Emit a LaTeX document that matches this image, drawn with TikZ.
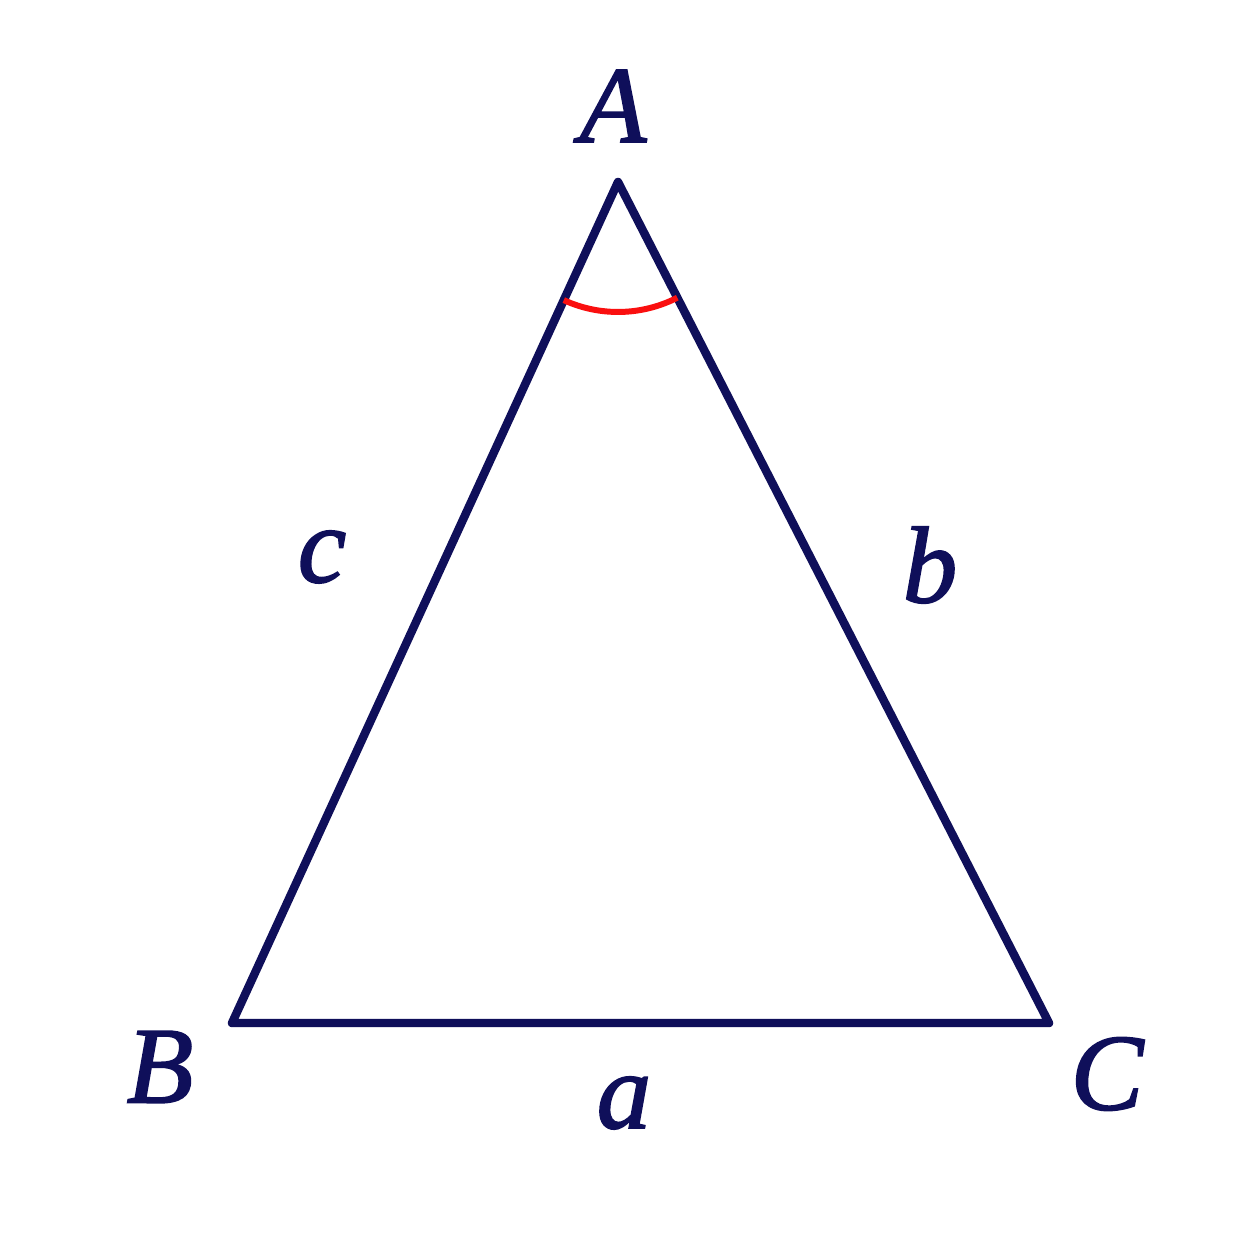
\documentclass[tikz,border=0pt]{standalone}
\usepackage{fontspec}
\setmainfont{Liberation Serif}
\newfontfamily\lblfont[ItalicFeatures={FakeBold=1.6}]{Liberation Serif}
\definecolor{navy}{RGB}{15,15,90}
\definecolor{arcred}{RGB}{250,15,15}
\begin{document}
\begin{tikzpicture}[
  side/.style={draw=navy, line width=2.4pt, line join=round, line cap=round},
  lbl/.style={text=navy, inner sep=0pt, font=\fontsize{31}{36}\selectfont\lblfont\itshape}
]
\useasboundingbox[fill=white] (0,0) rectangle (12.54,12.54);
\coordinate (A) at (6.18,10.72);
\coordinate (B) at (2.32,2.31);
\coordinate (C) at (10.49,2.31);
\draw[side] (A) -- (B) -- (C) -- cycle;
\draw[arcred, line width=1.7pt] ([shift={(245.35:1.3)}]A) arc[start angle=245.35, end angle=297.13, radius=1.3];
\node[lbl] (lA) at (6.13,11.48) {A};
\node[lbl] (lB) at (1.60,1.87) {B};
\node[lbl] (lC) at (11.07,1.80) {C};
\node[lbl] (la) at (6.24,1.51) {a};
\node[lbl] (lb) at (9.30,6.89) {b};
\node[lbl] (lc) at (3.22,6.97) {c};
\end{tikzpicture}
\end{document}
